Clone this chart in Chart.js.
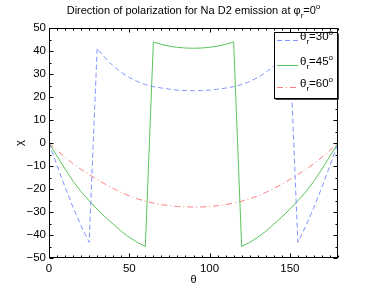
<!DOCTYPE html>
<html><head><meta charset="utf-8">
<script src="https://cdn.jsdelivr.net/npm/chart.js@4.4.1/dist/chart.umd.min.js"></script>
<style>html,body{margin:0;padding:0;background:#fff}</style>
</head><body>
<canvas id="c" width="374" height="291" style="width:374px;height:291px;display:block"></canvas>
<script>
// ---- data ----
const theta = [0,5,10,15,20,25,30,35,40,45,50,55,60,65,70,75,80,85,90,95,100,105,110,115,120,125,130,135,140,145,150,155,160,165,170,175,180];
const chiR30 = [0,-9.8,-19.2,-28.0,-36.0,-43.2,41.2,37.0,33.5,30.7,28.5,26.7,25.4,24.5,23.9,23.4,23.0,22.8,22.7,22.8,23.0,23.4,23.9,24.5,25.4,26.7,28.5,30.7,33.5,37.0,41.2,-43.2,-36.0,-28.0,-19.2,-9.8,0];
const chiR45 = [0,-5.7,-11.3,-16.6,-21.2,-25.1,-28.8,-32.2,-35.3,-38.4,-41.0,-43.2,-45.0,43.9,42.9,42.1,41.6,41.3,41.2,41.3,41.6,42.1,42.9,43.9,-45.0,-43.2,-41.0,-38.4,-35.3,-32.2,-28.8,-25.1,-21.2,-16.6,-11.3,-5.7,0];
const chiR60 = [0,-3.2,-6.2,-9.0,-11.5,-13.7,-15.9,-17.9,-19.8,-21.5,-23.0,-24.3,-25.3,-26.1,-26.8,-27.3,-27.6,-27.8,-27.8,-27.8,-27.6,-27.3,-26.8,-26.1,-25.3,-24.3,-23.0,-21.5,-19.8,-17.9,-15.9,-13.7,-11.5,-9.0,-6.2,-3.2,0];
const thetaR = ['30','45','60'];
const xTicks = [0,50,100,150];
const yTicks = [-50,-40,-30,-20,-10,0,10,20,30,40,50];
const xMinor = 5, yMinor = 5;

const FONT = "'Liberation Sans', Arial, Helvetica, sans-serif";
const colors = ['#7f93ff','#5cc45c','#ff7f7f'];
const dashes = [[5,3],[],[6,3,1,3]];
const series = [chiR30, chiR45, chiR60];

function pts(arr){ return theta.map((t,i)=>({x:t,y:arr[i]})); }

function drawRich(ctx, parts, x, y, align, base){
  base = base || 11; const small = 8;
  let w = 0;
  parts.forEach(p=>{ ctx.font = (p.sub||p.sup?small:base)+'px '+FONT; p.w = ctx.measureText(p.t).width; w += p.w; });
  let cx = align==='center' ? x - w/2 : x;
  ctx.textAlign='left'; ctx.textBaseline='alphabetic'; ctx.fillStyle='#000';
  parts.forEach(p=>{
    ctx.font = (p.sub||p.sup?small:base)+'px '+FONT;
    const dy = p.sub ? 4 : (p.sup ? -5 : 0);
    ctx.fillText(p.t, cx, y+dy);
    cx += p.w;
  });
}

const decor = {
  id:'decor',
  afterDatasetsDraw(chart){
    const ctx = chart.ctx, a = chart.chartArea, xs = chart.scales.x, ys = chart.scales.y;
    ctx.save();
    const L = Math.round(a.left)+0.5, R = Math.round(a.right)-0.5, T = Math.round(a.top)+0.5, B = Math.round(a.bottom)-0.5;
    ctx.strokeStyle='#000'; ctx.lineWidth=1; ctx.setLineDash([]);
    ctx.strokeRect(L, T, R-L, B-T);
    ctx.beginPath();
    for(let v=xs.min; v<=xs.max; v+=xMinor){
      const px = Math.round(xs.getPixelForValue(v))+0.5;
      const len = xTicks.includes(v) ? 4 : 2;
      ctx.moveTo(px,B); ctx.lineTo(px,B-len);
      ctx.moveTo(px,T); ctx.lineTo(px,T+len);
    }
    for(let v=ys.min; v<=ys.max; v+=yMinor){
      const py = Math.round(ys.getPixelForValue(v))+0.5;
      const len = yTicks.includes(v) ? 4 : 2;
      ctx.moveTo(L,py); ctx.lineTo(L+len,py);
      ctx.moveTo(R,py); ctx.lineTo(R-len,py);
    }
    ctx.stroke();

    // legend
    const lx = 274.5, ly = 32.5, lw = 63, lh = 66;
    ctx.fillStyle='#fff'; ctx.fillRect(lx,ly,lw,lh);
    ctx.strokeStyle='#000'; ctx.strokeRect(lx,ly,lw,lh);
    ctx.strokeStyle='#444';
    ctx.beginPath(); ctx.moveTo(lx+1,ly+lh+1); ctx.lineTo(lx+lw+1,ly+lh+1); ctx.lineTo(lx+lw+1,ly+1); ctx.stroke();
    const rows = [40,65,87];
    thetaR.forEach((r,i)=>{
      ctx.strokeStyle = colors[i]; ctx.lineWidth=1; ctx.setLineDash(dashes[i]);
      ctx.beginPath(); ctx.moveTo(277, rows[i]+0.5); ctx.lineTo(298, rows[i]+0.5); ctx.stroke();
      ctx.setLineDash([]);
      drawRich(ctx, [{t:'θ'},{t:'r',sub:true},{t:'='+r},{t:'o',sup:true}], 300, rows[i], 'left', 11.5);
    });

    // title & axis titles
    drawRich(ctx, [{t:'Direction of polarization for Na D2 emission at φ'},{t:'r',sub:true},{t:'=0'},{t:'o',sup:true}], (a.left+a.right)/2, 14, 'center');
    ctx.fillStyle='#000'; ctx.font='11px '+FONT; ctx.textAlign='center'; ctx.textBaseline='middle';
    ctx.fillText('θ', (a.left+a.right)/2, 280);
    ctx.save(); ctx.translate(20,(a.top+a.bottom)/2); ctx.rotate(-Math.PI/2); ctx.fillText('χ',0,0); ctx.restore();
    ctx.restore();
  }
};

new Chart(document.getElementById('c'), {
  type:'line',
  data:{ datasets: series.map((s,i)=>({
    label:'θr='+thetaR[i]+'°', data:pts(s), borderColor:colors[i], backgroundColor:colors[i],
    borderWidth:1, borderDash:dashes[i], pointRadius:0, tension:0, fill:false
  }))},
  options:{
    responsive:false, animation:false, devicePixelRatio:1,
    layout:{padding:{left:0,right:36,top:28,bottom:0}},
    plugins:{legend:{display:false}, title:{display:false}, tooltip:{enabled:false}},
    scales:{
      x:{type:'linear', min:0, max:180,
         grid:{display:false, drawTicks:false}, border:{display:false},
         afterBuildTicks:s=>{ s.ticks = xTicks.map(v=>({value:v})); },
         afterFit:s=>{ s.height = 33; },
         ticks:{padding:4, color:'#000', font:{family:FONT,size:11.5}, maxRotation:0}},
      y:{type:'linear', min:-50, max:50,
         grid:{display:false, drawTicks:false}, border:{display:false},
         afterBuildTicks:s=>{ s.ticks = yTicks.map(v=>({value:v})); },
         afterFit:s=>{ s.width = 49; },
         ticks:{padding:3, color:'#000', font:{family:FONT,size:11.5},
                callback:v=> v<0 ? '\u2212'+Math.abs(v) : String(v)}}
    }
  },
  plugins:[decor]
});
</script>
</body></html>
